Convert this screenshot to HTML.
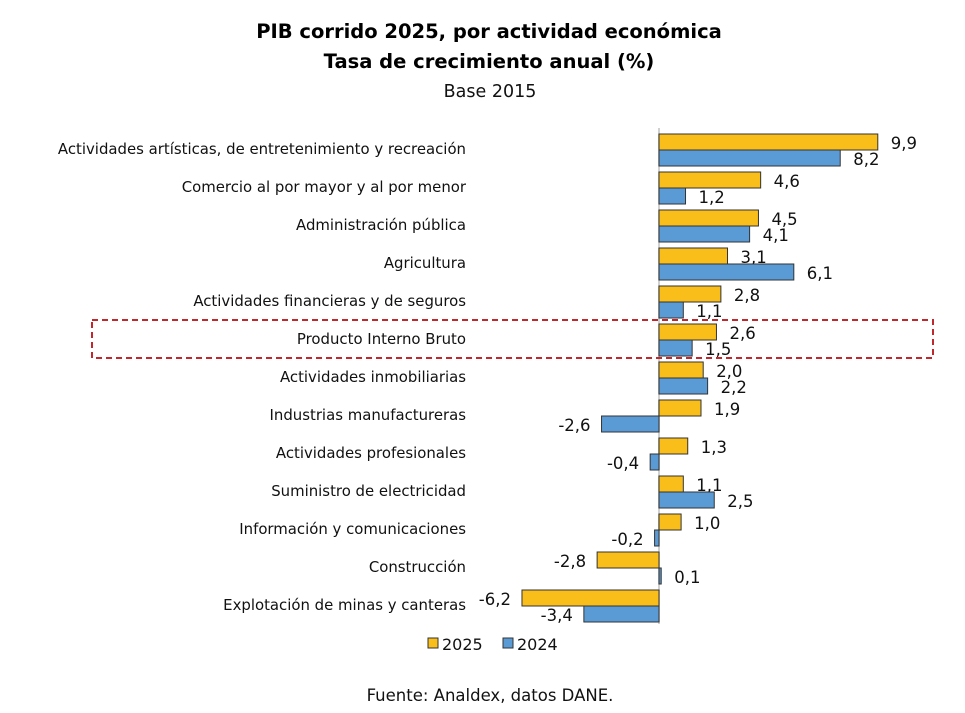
<!DOCTYPE html>
<html><head><meta charset="utf-8"><style>
body{margin:0;background:#fff;}
svg{display:block;font-family:"DejaVu Sans","Liberation Sans",sans-serif;}
</style></head><body>
<svg id="chart" width="965" height="713" viewBox="0 0 965 713">
<text x="489" y="38" text-anchor="middle" font-size="19.5" font-weight="bold" fill="#000">PIB corrido 2025, por actividad económica</text>
<text x="489" y="68" text-anchor="middle" font-size="19.5" font-weight="bold" fill="#000">Tasa de crecimiento anual (%)</text>
<text x="490" y="97" text-anchor="middle" font-size="17.5" fill="#111">Base 2015</text>
<g id="bars"></g>
<rect x="92" y="320" width="841" height="38" fill="none" stroke="#c0282d" stroke-width="2" stroke-dasharray="6,4"/>
<g>
<g><rect x="428" y="638" width="10" height="10" fill="#f9be1a" stroke="#333"/><text x="442" y="650" font-size="16" fill="#111">2025</text></g>
<g><rect x="503" y="638" width="10" height="10" fill="#5b9bd5" stroke="#333"/><text x="517" y="650" font-size="16" fill="#111">2024</text></g>
</g>
<text x="490" y="701" text-anchor="middle" font-size="16.5" fill="#111">Fuente: Analdex, datos DANE.</text>
</svg>
<script>
const categories=["Actividades artísticas, de entretenimiento y recreación","Comercio al por mayor y al por menor","Administración pública","Agricultura","Actividades financieras y de seguros","Producto Interno Bruto","Actividades inmobiliarias","Industrias manufactureras","Actividades profesionales","Suministro de electricidad","Información y comunicaciones","Construcción","Explotación de minas y canteras"];
const values2025=[9.9,4.6,4.5,3.1,2.8,2.6,2.0,1.9,1.3,1.1,1.0,-2.8,-6.2];
const values2024=[8.2,1.2,4.1,6.1,1.1,1.5,2.2,-2.6,-0.4,2.5,-0.2,0.1,-3.4];
const NS="http://www.w3.org/2000/svg";
const g=document.getElementById('bars');
const zeroX=659, scale=22.1, top0=150, pitch=38, bh=16;
const x=v=>zeroX+v*scale;
const y=i=>top0+i*pitch;
function mk(t,a){const e=document.createElementNS(NS,t);for(const k in a)e.setAttribute(k,a[k]);return e;}
const fmt=v=>v.toFixed(1).replace('.',',');
categories.forEach((c,i)=>{
  const t=mk('text',{x:466,y:y(i)+4,'text-anchor':'end','font-size':14.9,fill:'#111'});
  t.textContent=c;
  
  
  g.appendChild(t);
  [[values2025,'#f9be1a',-bh,'2025'],[values2024,'#5b9bd5',0,'2024']].forEach(([arr,col,off,yr])=>{
    const v=arr[i];
    const x0=Math.min(x(0),x(v)), w=Math.abs(x(v)-x(0));
    const r=mk('rect',{x:x0,y:y(i)+off,width:Math.max(w,1),height:bh,fill:col,stroke:'#333','stroke-width':1});
    
    
    g.appendChild(r);
    const lx=v>=0?x(v)+13:x(v)-11;
    const l=mk('text',{x:lx,y:y(i)+off+bh/2+7,'text-anchor':v>=0?'start':'end','font-size':16.5,fill:'#111'});
    l.textContent=fmt(v);
    
    
    g.appendChild(l);
  });
});
const ax=mk('line',{x1:zeroX,x2:zeroX,y1:128,y2:624,stroke:'#d0d0d0','stroke-width':2});


g.insertBefore(ax,g.firstChild);
</script>
</body></html>
